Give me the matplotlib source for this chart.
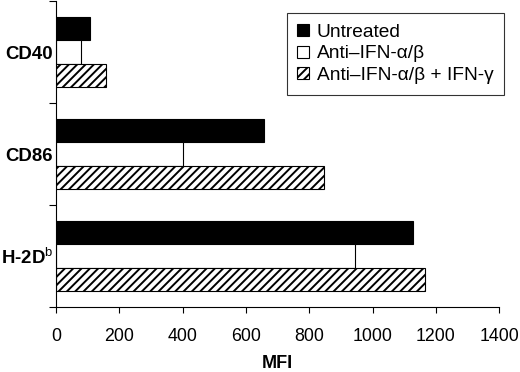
import numpy as np
import matplotlib
matplotlib.use("Agg")
import matplotlib.pyplot as plt

plt.rcParams['font.family'] = ['Liberation Sans', 'DejaVu Sans']
plt.rcParams['mathtext.fontset'] = 'custom'
plt.rcParams['mathtext.rm'] = 'Liberation Sans'
plt.rcParams['hatch.linewidth'] = 1.4

# Data
markers = ["CD40", "CD86", r"H-2D$^\mathrm{b}$"]
untreated = [106, 657, 1129]
anti_ifn_ab = [79, 400, 946]
anti_ifn_ab_gamma = [159, 848, 1165]
series_labels = ["Untreated", "Anti\u2013IFN-\u03b1/\u03b2", "Anti\u2013IFN-\u03b1/\u03b2 + IFN-\u03b3"]
xticks = [0, 200, 400, 600, 800, 1000, 1200, 1400]

fig = plt.figure(figsize=(5.2, 3.72), dpi=100)
ax = fig.add_axes([0.1077, 0.1747, 0.8523, 0.8226])

y = np.arange(len(markers))
h = 0.23
ax.barh(y - h, untreated, height=h, color='black', edgecolor='black', lw=0.8, label=series_labels[0])
ax.barh(y, anti_ifn_ab, height=h, color='white', edgecolor='black', lw=0.8, label=series_labels[1])
ax.barh(y + h, anti_ifn_ab_gamma, height=h, color='white', edgecolor='black', lw=0.8,
        hatch='////', label=series_labels[2])

ax.set_ylim(2.5, -0.5)
ax.set_xlim(0, 1400)
ax.set_xticks(xticks)
ax.set_xticklabels([str(t) for t in xticks], fontsize=12.8)
ax.tick_params(axis='x', direction='out', length=4, width=0.8, pad=11)

# boundary ticks on the y axis, labels in the middle
ax.set_yticks([-0.5, 0.5, 1.5, 2.5])
ax.set_yticklabels([])
ax.set_yticks(y, minor=True)
ax.set_yticklabels(markers, minor=True, fontsize=13.4, fontweight='bold')
ax.tick_params(axis='y', which='major', direction='out', length=5, width=0.8)
ax.tick_params(axis='y', which='minor', length=0, pad=2)

for s in ['top', 'right']:
    ax.spines[s].set_visible(False)
for s in ['left', 'bottom']:
    ax.spines[s].set_linewidth(0.8)

ax.set_xlabel("MFI", fontsize=13, fontweight='bold', labelpad=7)

leg = ax.legend(loc='upper right', bbox_to_anchor=(0.969, 0.965), bbox_transform=fig.transFigure,
                borderaxespad=0, fontsize=13.8, frameon=True, fancybox=False,
                edgecolor='black', handlelength=0.6, handleheight=0.6, handletextpad=0.4,
                labelspacing=0.25, borderpad=0.55)
leg.get_frame().set_linewidth(0.8)

fig.savefig("out.png", dpi=100)
